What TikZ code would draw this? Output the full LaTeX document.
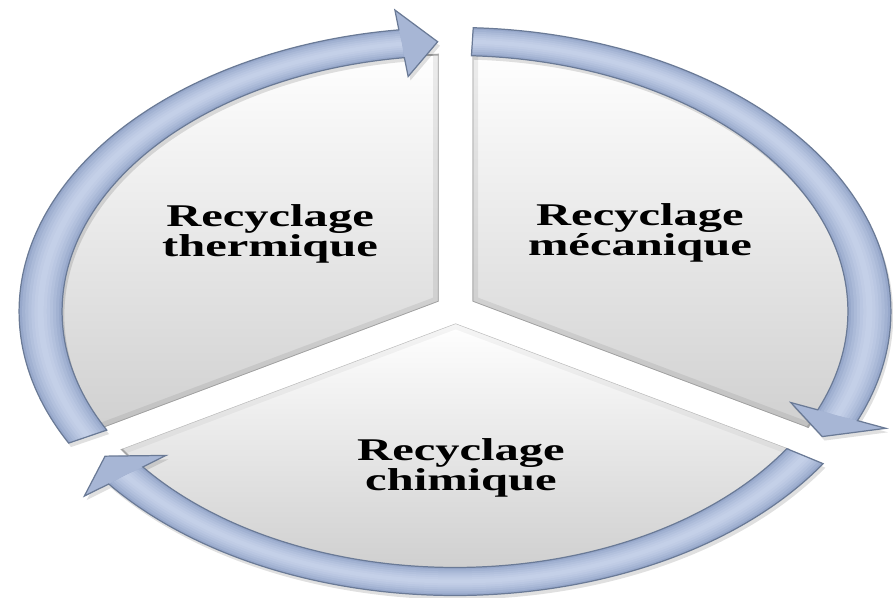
\documentclass[tikz,border=0pt]{standalone}
\usepackage{fontspec}
\setmainfont{Liberation Serif}
\definecolor{bandfill}{HTML}{97A8CB}
\definecolor{bandlighter}{HTML}{C4D0E8}
\definecolor{bandedge}{HTML}{6A7A96}
\newcommand\bandpath[3]{(#1:256) arc[start angle=#1, end angle=#2, radius=256] -- (#2:237) -- (#3:270) -- (#2:304) -- (#2:284) arc[start angle=#2, end angle=#1, radius=284] -- cycle}
\newcommand\bandstrip[4]{\fill[bandlighter!#4!bandfill] (#1:270-#3) arc[start angle=#1, end angle=#2, radius=270-#3] -- (#2:270+#3) arc[start angle=#2, end angle=#1, radius=270+#3] -- cycle;}
\newcommand\bandarrow[3]{%
  \fill[black, opacity=0.12, shift={(1.5,-4)}] \bandpath{#1}{#2}{#3};
  \fill[bandfill] \bandpath{#1}{#2}{#3};
  \fill[bandlighter!35!bandfill] (#2:237) -- (#3:270) -- (#2:304) -- cycle;
  \bandstrip{#1}{#2}{12}{25}
  \bandstrip{#1}{#2}{10}{45}
  \bandstrip{#1}{#2}{8}{62}
  \bandstrip{#1}{#2}{6}{78}
  \bandstrip{#1}{#2}{4}{90}
  \bandstrip{#1}{#2}{2}{100}
  \draw[bandedge, line width=0.7pt, line join=miter] \bandpath{#1}{#2}{#3};
}
\tikzset{
  lbl/.style={font=\bfseries\fontsize{18}{17.5}\selectfont, align=center, transform shape, inner sep=0pt, text=black},
  sectoredge/.style={gray!75, line width=0.8pt},
  sectorglow/.style={black, opacity=0.07, line width=0.22cm}
}
\begin{document}
\begin{tikzpicture}[x=0.02cm,y=0.02cm]
\useasboundingbox[fill=white] (0,0) rectangle (893,598);
\begin{scope}[shift={(455,286.5)},xscale=1.535]
  % left sector
  \begin{scope}
    \clip (0,0) circle (258);
    \clip (-10.7,10) -- (-10.7,400) -- (-500,400) -- (-500,-240) -- (-443.7,-240) -- cycle;
    \shade[top color=white, bottom color=gray!38] (-460,-130) rectangle (0,262);
    \draw[sectorglow] (-10.7,400) -- (-10.7,10) -- (-443.7,-240);
    \draw[sectoredge] (-10.7,400) -- (-10.7,10) -- (-443.7,-240);
    \draw[gray!70, line width=1pt] (0,0) circle (257);
  \end{scope}
  % right sector
  \begin{scope}
    \clip (0,0) circle (258);
    \clip (11.5,10) -- (11.5,400) -- (500,400) -- (500,-240) -- (444.5,-240) -- cycle;
    \shade[top color=white, bottom color=gray!38] (0,-130) rectangle (460,262);
    \draw[sectorglow] (11.5,400) -- (11.5,10) -- (444.5,-240);
    \draw[sectoredge] (11.5,400) -- (11.5,10) -- (444.5,-240);
    \draw[gray!70, line width=1pt] (0,0) circle (257);
  \end{scope}
  % bottom sector
  \begin{scope}
    \clip (0,0) circle (258);
    \clip (0.4,-12) -- (-432.6,-262) -- (-432.6,-400) -- (433.4,-400) -- (433.4,-262) -- cycle;
    \shade[top color=white, bottom color=gray!38] (-460,-262) rectangle (460,-12);
    \draw[sectorglow, opacity=0.04] (-432.6,-262) -- (0.4,-12) -- (433.4,-262);
    \draw[gray!55, line width=0.5pt] (-432.6,-262) -- (0.4,-12) -- (433.4,-262);
    \draw[gray!70, line width=1pt] (0,0) circle (257);
  \end{scope}
  % arrows
  \bandarrow{207.6}{97.4}{92.4}
  \bandarrow{87.6}{-22.6}{-27.6}
  \bandarrow{-32.4}{-142.6}{-147.6}
  % labels
  \node[lbl] (thermique) at (-120.5,77.5) {Recyclage\\thermique};
  \node[lbl] (mecanique) at (120.5,78.5) {Recyclage\\mécanique};
  \node[lbl] (chimique) at (3.9,-156.5) {Recyclage\\chimique};
\end{scope}
\end{tikzpicture}
\end{document}
